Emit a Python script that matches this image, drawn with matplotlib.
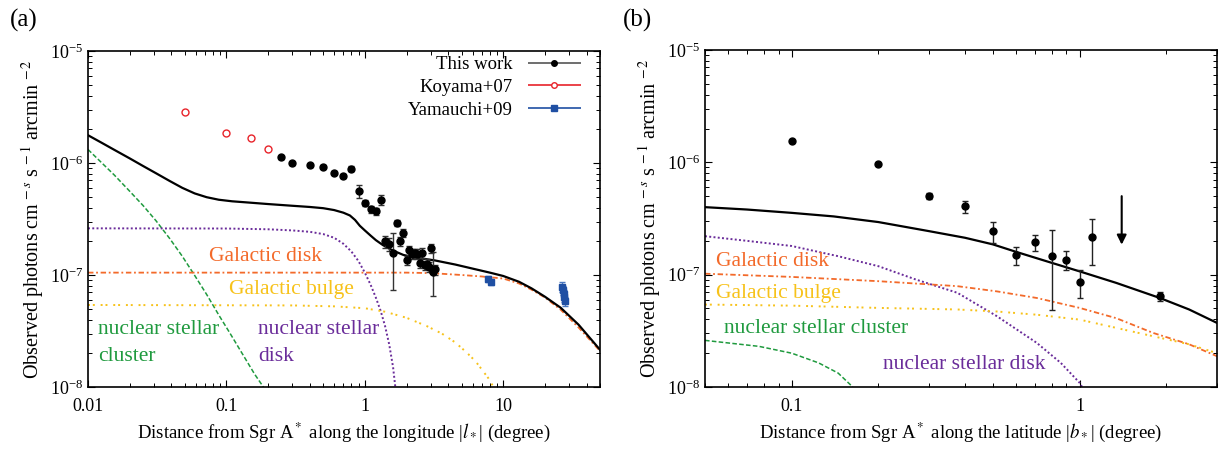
import matplotlib
matplotlib.use("Agg")
import matplotlib.pyplot as plt
from matplotlib.ticker import LogLocator, LogFormatterMathtext, NullFormatter
from matplotlib.container import ErrorbarContainer
from matplotlib.legend_handler import HandlerErrorbar

plt.rcParams["font.family"] = ["Liberation Serif", "DejaVu Serif"]
plt.rcParams["mathtext.fontset"] = "stix"

# ---------------- panel (a): longitude ----------------
tot_a_x = [0.01, 0.0125, 0.0155, 0.02, 0.025, 0.031, 0.039, 0.048, 0.059, 0.072, 0.088,
           0.11, 0.15, 0.2, 0.3, 0.4, 0.5, 0.6, 0.7, 0.78, 0.85, 0.92, 1.0, 1.1, 1.2,
           1.35, 1.5, 1.7, 1.9, 2.2, 2.6, 3.2, 4.5, 6.2, 8, 10, 13, 16, 20, 26, 35, 50]
tot_a_y = [1.77e-6, 1.52e-6, 1.31e-6, 1.1e-6, 9.4e-7, 8.1e-7, 6.9e-7, 6.0e-7, 5.35e-7,
           4.95e-7, 4.7e-7, 4.55e-7, 4.42e-7, 4.3e-7, 4.15e-7, 4.05e-7, 3.95e-7, 3.8e-7,
           3.6e-7, 3.4e-7, 3.1e-7, 2.75e-7, 2.5e-7, 2.25e-7, 2.05e-7, 1.85e-7, 1.72e-7,
           1.6e-7, 1.51e-7, 1.45e-7, 1.4e-7, 1.35e-7, 1.24e-7, 1.13e-7, 1.05e-7, 9.8e-8,
           8.7e-8, 7.6e-8, 6.4e-8, 5.1e-8, 3.6e-8, 2.15e-8]

nsc_a_x = [0.01, 0.0125, 0.0155, 0.02, 0.025, 0.031, 0.039, 0.048, 0.059, 0.072, 0.088,
           0.107, 0.13, 0.16, 0.185]
nsc_a_y = [1.32e-6, 1.01e-6, 7.8e-7, 5.6e-7, 4.17e-7, 3.05e-7, 2.11e-7, 1.47e-7, 9.9e-8,
           6.7e-8, 4.4e-8, 2.97e-8, 1.99e-8, 1.3e-8, 1.0e-8]

nsd_a_x = [0.01, 0.1, 0.2, 0.3, 0.4, 0.5, 0.6, 0.7, 0.8, 0.9, 1.0, 1.1, 1.2, 1.3, 1.4,
           1.5, 1.6, 1.66]
nsd_a_y = [2.61e-7, 2.6e-7, 2.56e-7, 2.5e-7, 2.43e-7, 2.32e-7, 2.15e-7, 1.9e-7, 1.62e-7,
           1.33e-7, 1.05e-7, 8.2e-8, 6.3e-8, 4.8e-8, 3.5e-8, 2.4e-8, 1.5e-8, 1.0e-8]

disk_a_x = [0.01, 1, 2, 3, 5, 7, 10, 13, 16, 20, 26, 35, 50]
disk_a_y = [1.05e-7, 1.05e-7, 1.05e-7, 1.04e-7, 1.0e-7, 9.7e-8, 9.3e-8, 8.4e-8, 7.4e-8,
            6.3e-8, 4.9e-8, 3.4e-8, 2.1e-8]

bulge_a_x = [0.01, 0.3, 0.6, 1.0, 1.4, 2.0, 2.8, 3.6, 4.5, 5.4, 6.3, 7.1, 7.8, 8.5]
bulge_a_y = [5.4e-8, 5.35e-8, 5.25e-8, 5.05e-8, 4.7e-8, 4.15e-8, 3.5e-8, 3.0e-8, 2.5e-8,
             2.05e-8, 1.7e-8, 1.4e-8, 1.2e-8, 1.0e-8]

tw_x = [0.25, 0.3, 0.4, 0.5, 0.6, 0.7, 0.8, 0.9, 1.0, 1.1, 1.2, 1.3, 1.4, 1.5, 1.6, 1.7,
        1.8, 1.9, 2.0, 2.1, 2.2, 2.3, 2.4, 2.5, 2.6, 2.7, 2.8, 2.9, 3.0, 3.1, 3.2]
tw_y = [1.12e-6, 9.9e-7, 9.5e-7, 9.3e-7, 8.2e-7, 7.7e-7, 8.9e-7, 5.6e-7, 4.4e-7, 3.85e-7,
        3.7e-7, 4.7e-7, 2.0e-7, 1.9e-7, 1.56e-7, 2.9e-7, 2.0e-7, 2.37e-7, 1.36e-7, 1.66e-7,
        1.55e-7, 1.57e-7, 1.55e-7, 1.27e-7, 1.58e-7, 1.22e-7, 1.26e-7, 1.18e-7, 1.73e-7,
        1.07e-7, 1.12e-7]
tw_lo = [3e-8, 3e-8, 2e-8, 2e-8, 2e-8, 3e-8, 5e-8, 7e-8, 3e-8, 2.5e-8, 3e-8, 4.5e-8, 2.5e-8,
         2.5e-8, 8.3e-8, 1.8e-8, 2e-8, 2e-8, 1.2e-8, 1.5e-8, 1.5e-8, 1.5e-8, 1.5e-8, 1.2e-8,
         1.5e-8, 1.2e-8, 1.2e-8, 1.2e-8, 1.6e-8, 4.2e-8, 1.2e-8]
tw_hi = [3e-8, 3e-8, 2e-8, 2e-8, 2e-8, 3e-8, 5e-8, 8e-8, 3e-8, 2.5e-8, 3e-8, 5e-8, 2.5e-8,
         2.5e-8, 8e-8, 1.8e-8, 2e-8, 2e-8, 1.2e-8, 1.5e-8, 1.5e-8, 1.5e-8, 1.5e-8, 1.2e-8,
         1.5e-8, 1.2e-8, 1.2e-8, 1.2e-8, 1.6e-8, 5.5e-8, 1.2e-8]

koy_x = [0.05, 0.1, 0.15, 0.2]
koy_y = [2.85e-6, 1.87e-6, 1.66e-6, 1.32e-6]
koy_err = [8e-8, 5e-8, 4e-8, 3e-8]

yam_x = [7.8, 8.2, 26.5, 27.0, 27.3, 27.6, 27.9]
yam_y = [9.2e-8, 8.7e-8, 7.8e-8, 7.3e-8, 6.8e-8, 6.3e-8, 5.8e-8]
yam_err = [6e-9, 6e-9, 8e-9, 7e-9, 6e-9, 6e-9, 5e-9]

# ---------------- panel (b): latitude ----------------
tot_b_x = [0.05, 0.07, 0.1, 0.14, 0.2, 0.3, 0.4, 0.5, 0.6, 0.78, 1.0, 1.34, 1.9, 2.4, 3.0]
tot_b_y = [3.99e-7, 3.8e-7, 3.55e-7, 3.3e-7, 2.94e-7, 2.44e-7, 2.13e-7, 1.86e-7, 1.6e-7,
           1.3e-7, 1.07e-7, 8.45e-8, 6.2e-8, 4.9e-8, 3.72e-8]

nsd_b_x = [0.05, 0.07, 0.1, 0.145, 0.2, 0.27, 0.376, 0.516, 0.71, 0.86, 1.0, 1.02]
nsd_b_y = [2.2e-7, 2.0e-7, 1.8e-7, 1.46e-7, 1.19e-7, 9.05e-8, 6.9e-8, 4.27e-8, 2.47e-8,
           1.64e-8, 1.09e-8, 1.0e-8]

disk_b_x = [0.05, 0.1, 0.2, 0.376, 0.516, 0.71, 1.0, 1.34, 1.8, 2.4, 3.0]
disk_b_y = [1.02e-7, 9.55e-8, 8.75e-8, 7.9e-8, 7.1e-8, 6.2e-8, 5.06e-8, 4.1e-8, 3.03e-8,
            2.4e-8, 1.88e-8]

bulge_b_x = [0.05, 0.1, 0.2, 0.376, 0.516, 0.71, 1.0, 1.34, 1.8, 2.4, 3.0]
bulge_b_y = [5.42e-8, 5.3e-8, 5.06e-8, 4.9e-8, 4.7e-8, 4.4e-8, 3.98e-8, 3.36e-8, 2.83e-8,
             2.4e-8, 2.0e-8]

nsc_b_x = [0.05, 0.077, 0.1, 0.124, 0.145, 0.163]
nsc_b_y = [2.6e-8, 2.3e-8, 2.0e-8, 1.64e-8, 1.33e-8, 1.0e-8]

lat_x = [0.1, 0.2, 0.3, 0.4, 0.5, 0.6, 0.7, 0.8, 0.9, 1.0, 1.1, 1.9]
lat_y = [1.56e-6, 9.6e-7, 5.0e-7, 4.07e-7, 2.44e-7, 1.49e-7, 1.96e-7, 1.48e-7, 1.36e-7,
         8.6e-8, 2.16e-7, 6.45e-8]
lat_lo = [0, 0, 3e-8, 5e-8, 5.2e-8, 2.8e-8, 3.2e-8, 1e-7, 2.6e-8, 2.4e-8, 9.5e-8, 6e-9]
lat_hi = [0, 0, 3e-8, 5e-8, 5e-8, 2.6e-8, 2.9e-8, 1e-7, 2.6e-8, 2.3e-8, 9.4e-8, 6e-9]

ul_x = [1.4]
ul_top = [5.0e-7]
ul_y = [1.85e-7]

GREEN = "#1f9a3e"
PURPLE = "#6a2c9a"
ORANGE = "#f36a2a"
YELLOW = "#f7c21a"
RED = "#e8232a"
BLUE = "#1f4fa3"

YLABEL = r"Observed photons cm$^{\,-s}$ s$^{\,-1}$ arcmin$^{\,-2}$"


def style_axes(ax, xlim):
    ax.set_xscale("log")
    ax.set_yscale("log")
    ax.set_xlim(*xlim)
    ax.set_ylim(1e-8, 1e-5)
    ax.xaxis.set_major_locator(LogLocator(base=10))
    ax.xaxis.set_minor_locator(LogLocator(base=10, subs=range(2, 10)))
    ax.xaxis.set_minor_formatter(NullFormatter())
    ax.yaxis.set_major_formatter(LogFormatterMathtext())
    ax.yaxis.set_minor_formatter(NullFormatter())
    ax.tick_params(which="both", direction="in", top=True, right=True, labelsize=13)
    ax.tick_params(which="major", length=5, width=0.8)
    ax.tick_params(which="minor", length=3, width=0.7)
    ax.tick_params(axis="x", pad=8)
    ax.set_ylabel(YLABEL, fontsize=14.5, labelpad=3)
    for s in ax.spines.values():
        s.set_linewidth(1.2)


fig = plt.figure(figsize=(12.25, 4.5), dpi=100)
ax1 = fig.add_axes([88 / 1225, 63 / 450, 512 / 1225, 336 / 450])
ax2 = fig.add_axes([705 / 1225, 63 / 450, 512 / 1225, 337 / 450])

# panel (a)
ax1.plot(nsc_a_x, nsc_a_y, color=GREEN, lw=1.1, dashes=(3, 1.5))
ax1.plot(nsd_a_x, nsd_a_y, color=PURPLE, lw=1.4, dashes=(1, 1.2))
ax1.plot(disk_a_x, disk_a_y, color=ORANGE, lw=1.3, dashes=(3, 1.5, 1, 1.5))
ax1.plot(bulge_a_x, bulge_a_y, color=YELLOW, lw=1.4, dashes=(1, 1.5, 1, 3))
ax1.plot(tot_a_x, tot_a_y, color="black", lw=1.6)

ax1.errorbar(tw_x, tw_y, yerr=[tw_lo, tw_hi], fmt="o", color="black", ms=5,
             ecolor="#333333", elinewidth=1, capsize=2.5, capthick=1)
ax1.errorbar(koy_x, koy_y, yerr=koy_err, fmt="o", mfc="white", mec=RED, mew=1,
             color=RED, ms=5, ecolor=RED, elinewidth=0.8, capsize=0)
ax1.errorbar(yam_x, yam_y, yerr=yam_err, fmt="s", color=BLUE, ms=5,
             ecolor="#4a78c0", elinewidth=1, capsize=2.5, capthick=1)

# legend proxies (horizontal error bar samples)
h1 = ax1.errorbar([], [], xerr=[], fmt="o", color="black", ms=4, ecolor="#555555",
                  elinewidth=1.2, capsize=3)
h2 = ax1.errorbar([], [], xerr=[], fmt="o", mfc="white", mec=RED, ms=4, color=RED,
                  ecolor=RED, elinewidth=1.2, capsize=3)
h3 = ax1.errorbar([], [], xerr=[], fmt="s", color=BLUE, ms=4, ecolor=BLUE,
                  elinewidth=1.2, capsize=3)
ax1.legend([h1, h2, h3], ["This work", "Koyama+07", "Yamauchi+09"],
           loc="upper right", bbox_to_anchor=(0.995, 1.035), frameon=False,
           markerfirst=False, fontsize=13.5, handlelength=2.8, labelspacing=0.3,
           handletextpad=0.8,
           handler_map={ErrorbarContainer: HandlerErrorbar(xerr_size=1.4)})

ax1.text(0.236, 0.388, "Galactic disk", transform=ax1.transAxes, color=ORANGE,
         fontsize=15.5, va="center")
ax1.text(0.276, 0.289, "Galactic bulge", transform=ax1.transAxes, color=YELLOW,
         fontsize=15.5, va="center")
ax1.text(0.02, 0.17, "nuclear stellar", transform=ax1.transAxes, color=GREEN,
         fontsize=15.5, va="center")
ax1.text(0.02, 0.091, "cluster", transform=ax1.transAxes, color=GREEN,
         fontsize=15.5, va="center")
ax1.text(0.332, 0.17, "nuclear stellar", transform=ax1.transAxes, color=PURPLE,
         fontsize=15.5, va="center")
ax1.text(0.332, 0.091, "disk", transform=ax1.transAxes, color=PURPLE,
         fontsize=15.5, va="center")

style_axes(ax1, (0.01, 50))
ax1.set_xticks([0.01, 0.1, 1, 10])
ax1.set_xticklabels(["0.01", "0.1", "1", "10"])
ax1.set_xlabel("Distance from Sgr A$^*$ along the longitude |$l_*$| (degree)",
               fontsize=13.5, labelpad=4)

# panel (b)
ax2.plot(nsc_b_x, nsc_b_y, color=GREEN, lw=1.1, dashes=(3, 1.5))
ax2.plot(nsd_b_x, nsd_b_y, color=PURPLE, lw=1.4, dashes=(1, 1.2))
ax2.plot(disk_b_x, disk_b_y, color=ORANGE, lw=1.3, dashes=(3, 1.5, 1, 1.5))
ax2.plot(bulge_b_x, bulge_b_y, color=YELLOW, lw=1.4, dashes=(1, 1.5, 1, 3))
ax2.plot(tot_b_x, tot_b_y, color="black", lw=1.6)

ax2.errorbar(lat_x, lat_y, yerr=[lat_lo, lat_hi], fmt="o", color="black", ms=5,
             ecolor="#222222", elinewidth=1, capsize=2.5, capthick=1)
for x, top, y in zip(ul_x, ul_top, ul_y):
    ax2.annotate("", xy=(x, y), xytext=(x, top),
                 arrowprops=dict(arrowstyle="-|>", color="black", lw=1.5,
                                 mutation_scale=14, shrinkA=0, shrinkB=0))

ax2.text(0.022, 0.373, "Galactic disk", transform=ax2.transAxes, color=ORANGE,
         fontsize=15.5, va="center")
ax2.text(0.022, 0.277, "Galactic bulge", transform=ax2.transAxes, color=YELLOW,
         fontsize=15.5, va="center")
ax2.text(0.037, 0.175, "nuclear stellar cluster", transform=ax2.transAxes, color=GREEN,
         fontsize=15.5, va="center")
ax2.text(0.348, 0.066, "nuclear stellar disk", transform=ax2.transAxes, color=PURPLE,
         fontsize=15.5, va="center")

style_axes(ax2, (0.05, 3))
ax2.set_xticks([0.1, 1])
ax2.set_xticklabels(["0.1", "1"])
ax2.set_xlabel("Distance from Sgr A$^*$ along the latitude |$b_*$| (degree)",
               fontsize=13.5, labelpad=4)

fig.text(10 / 1225, 1 - 20 / 450, "(a)", fontsize=18, va="center")
fig.text(623 / 1225, 1 - 20 / 450, "(b)", fontsize=18, va="center")

fig.savefig("out.png", dpi=100)
